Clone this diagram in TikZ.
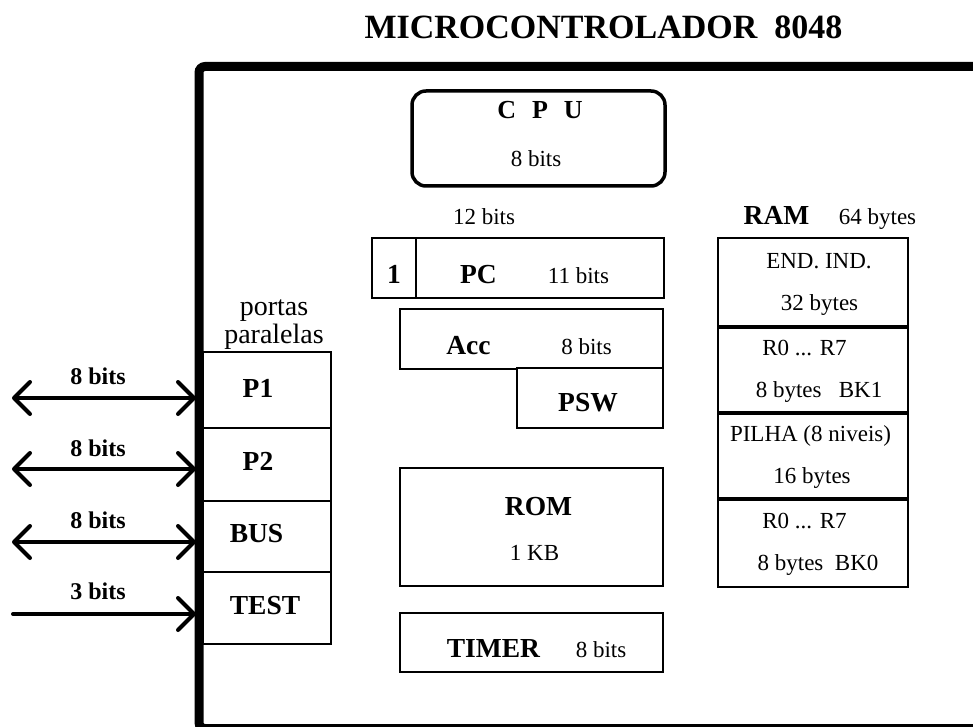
\documentclass[tikz,border=0pt]{standalone}
\usepackage{fontspec}
\setmainfont{Liberation Serif}
\usepackage{tikz}
\usetikzlibrary{arrows.meta}

\begin{document}
\begin{tikzpicture}[
                x=1pt, y=-1pt,
                font=\fontsize{23}{27}\selectfont,
                thin_box/.style={rectangle, draw, line width=2pt, fill=white, inner sep=0pt},
                reg_box/.style={thin_box, minimum width=263pt},
                ram_box/.style={thin_box, minimum width=190pt},
                port_box/.style={thin_box, minimum width=128pt},
                bold_text/.style={anchor=base, inner sep=0pt, font=\fontsize{27.5}{32}\selectfont\bfseries},
                label_text/.style={anchor=base, inner sep=0pt},
                bus/.style={line width=4pt, line cap=round, >={Straight Barb[length=16pt,width=32pt,round]}}
            ]
                \useasboundingbox (0,0) rectangle (973,727);

                % Title and chip border
                \node[bold_text, font=\fontsize{34}{38}\selectfont\bfseries] (title) at (603.5,39) {MICROCONTROLADOR\ \ 8048};
                \draw[line width=9pt, rounded corners=6pt] (990,66.5) -- (199,66.5) -- (199,728.5) -- (990,728.5);

                % CPU
                \node[draw, line width=3.5pt, rounded corners=14pt, minimum width=253pt, minimum height=95pt] (cpu) at (538.5,138.5) {};
                \node[bold_text, font=\fontsize{26}{30}\selectfont\bfseries] (cpu_name) at (540,119) {C\hspace{16pt}P\hspace{16pt}U};
                \node[label_text] (cpu_bits) at (536,167) {8 bits};

                % PC
                \node[label_text] (pc_width) at (484,225) {12 bits};
                \node[thin_box, minimum width=44pt, minimum height=60pt] (pc_msb) at (394,268) {};
                \node[thin_box, minimum width=248pt, minimum height=60pt] (pc) at (540,268) {};
                \node[bold_text] (pc_one) at (394,283) {1};
                \node[bold_text] (pc_name) at (478.5,283) {PC};
                \node[label_text] (pc_bits) at (578.5,283) {11 bits};

                % Acc and PSW
                \node[reg_box, minimum height=60pt] (acc) at (531.5,339) {};
                \node[bold_text] (acc_name) at (468.5,354) {Acc};
                \node[label_text] (acc_bits) at (586.5,354) {8 bits};
                \node[thin_box, minimum width=146pt, minimum height=60pt] (psw) at (590,398) {};
                \node[bold_text] (psw_name) at (588,411) {PSW};

                % ROM and TIMER
                \node[reg_box, minimum height=118pt] (rom) at (531.5,527) {};
                \node[bold_text] (rom_name) at (538.5,515) {ROM};
                \node[label_text] (rom_size) at (534.5,560) {1 KB};
                \node[reg_box, minimum height=59pt] (timer) at (531.5,642.5) {};
                \node[bold_text] (timer_name) at (493.5,657) {TIMER};
                \node[label_text] (timer_bits) at (601,657) {8 bits};

                % RAM
                \node[bold_text] (ram_name) at (776.5,225) {RAM};
                \node[label_text] (ram_size) at (877.5,225) {64 bytes};
                \node[ram_box, minimum height=88pt] (ram_a) at (813,282) {};
                \node[ram_box, minimum height=86pt] (ram_b) at (813,369) {};
                \node[ram_box, minimum height=86pt] (ram_c) at (813,455) {};
                \node[ram_box, minimum height=89pt] (ram_d) at (813,542.5) {};
                \foreach \cell in {ram_a, ram_b, ram_c}
                    \draw[line width=3.5pt] (\cell.south west) -- (\cell.south east);
                \node[label_text] (ind_name) at (819,268) {END. IND.};
                \node[label_text] (ind_size) at (819.5,310) {32 bytes};
                \node[label_text] (bk1_regs) at (804.5,355) {R0 ... R7};
                \node[label_text] (bk1_size) at (819,397) {8 bytes\ \ \ BK1};
                \node[label_text] (stack_name) at (810.5,441) {PILHA (8 niveis)};
                \node[label_text] (stack_size) at (812,483) {16 bytes};
                \node[label_text] (bk0_regs) at (804.5,528) {R0 ... R7};
                \node[label_text] (bk0_size) at (818,570) {8 bytes\ \ BK0};

                % Parallel ports
                \node[label_text, align=center, font=\fontsize{28}{28}\selectfont] (ports) at (274,343) {portas\\paralelas};
                \node[port_box, minimum height=76pt] (p1) at (267,390) {};
                \node[port_box, minimum height=73pt] (p2) at (267,464.5) {};
                \node[port_box, minimum height=71pt] (bus) at (267,536.5) {};
                \node[port_box, minimum height=72pt] (test) at (267,608) {};
                \node[bold_text] (p1_name) at (258,397) {P1};
                \node[bold_text] (p2_name) at (258,470) {P2};
                \node[bold_text] (bus_name) at (256.5,542) {BUS};
                \node[bold_text] (test_name) at (265,614) {TEST};

                % External lines
                \coordinate (p1_out) at (12,398);
                \coordinate (p2_out) at (12,469);
                \coordinate (bus_out) at (12,542);
                \coordinate (test_in) at (13,614);
                \draw[bus, <->, shorten >=6pt] (p1_out) -- (p1_out -| p1.west);
                \draw[bus, <->, shorten >=6pt] (p2_out) -- (p2_out -| p2.west);
                \draw[bus, <->, shorten >=6pt] (bus_out) -- (bus_out -| bus.west);
                \draw[bus, ->, shorten >=6pt] (test_in) -- (test_in -| test.west);
                \node[bold_text, font=\fontsize{24}{28}\selectfont\bfseries] (p1_bits) at (98,384) {8 bits};
                \node[bold_text, font=\fontsize{24}{28}\selectfont\bfseries] (p2_bits) at (98,456) {8 bits};
                \node[bold_text, font=\fontsize{24}{28}\selectfont\bfseries] (bus_bits) at (98,528) {8 bits};
                \node[bold_text, font=\fontsize{24}{28}\selectfont\bfseries] (test_bits) at (98,599) {3 bits};

            \end{tikzpicture}
\end{document}
